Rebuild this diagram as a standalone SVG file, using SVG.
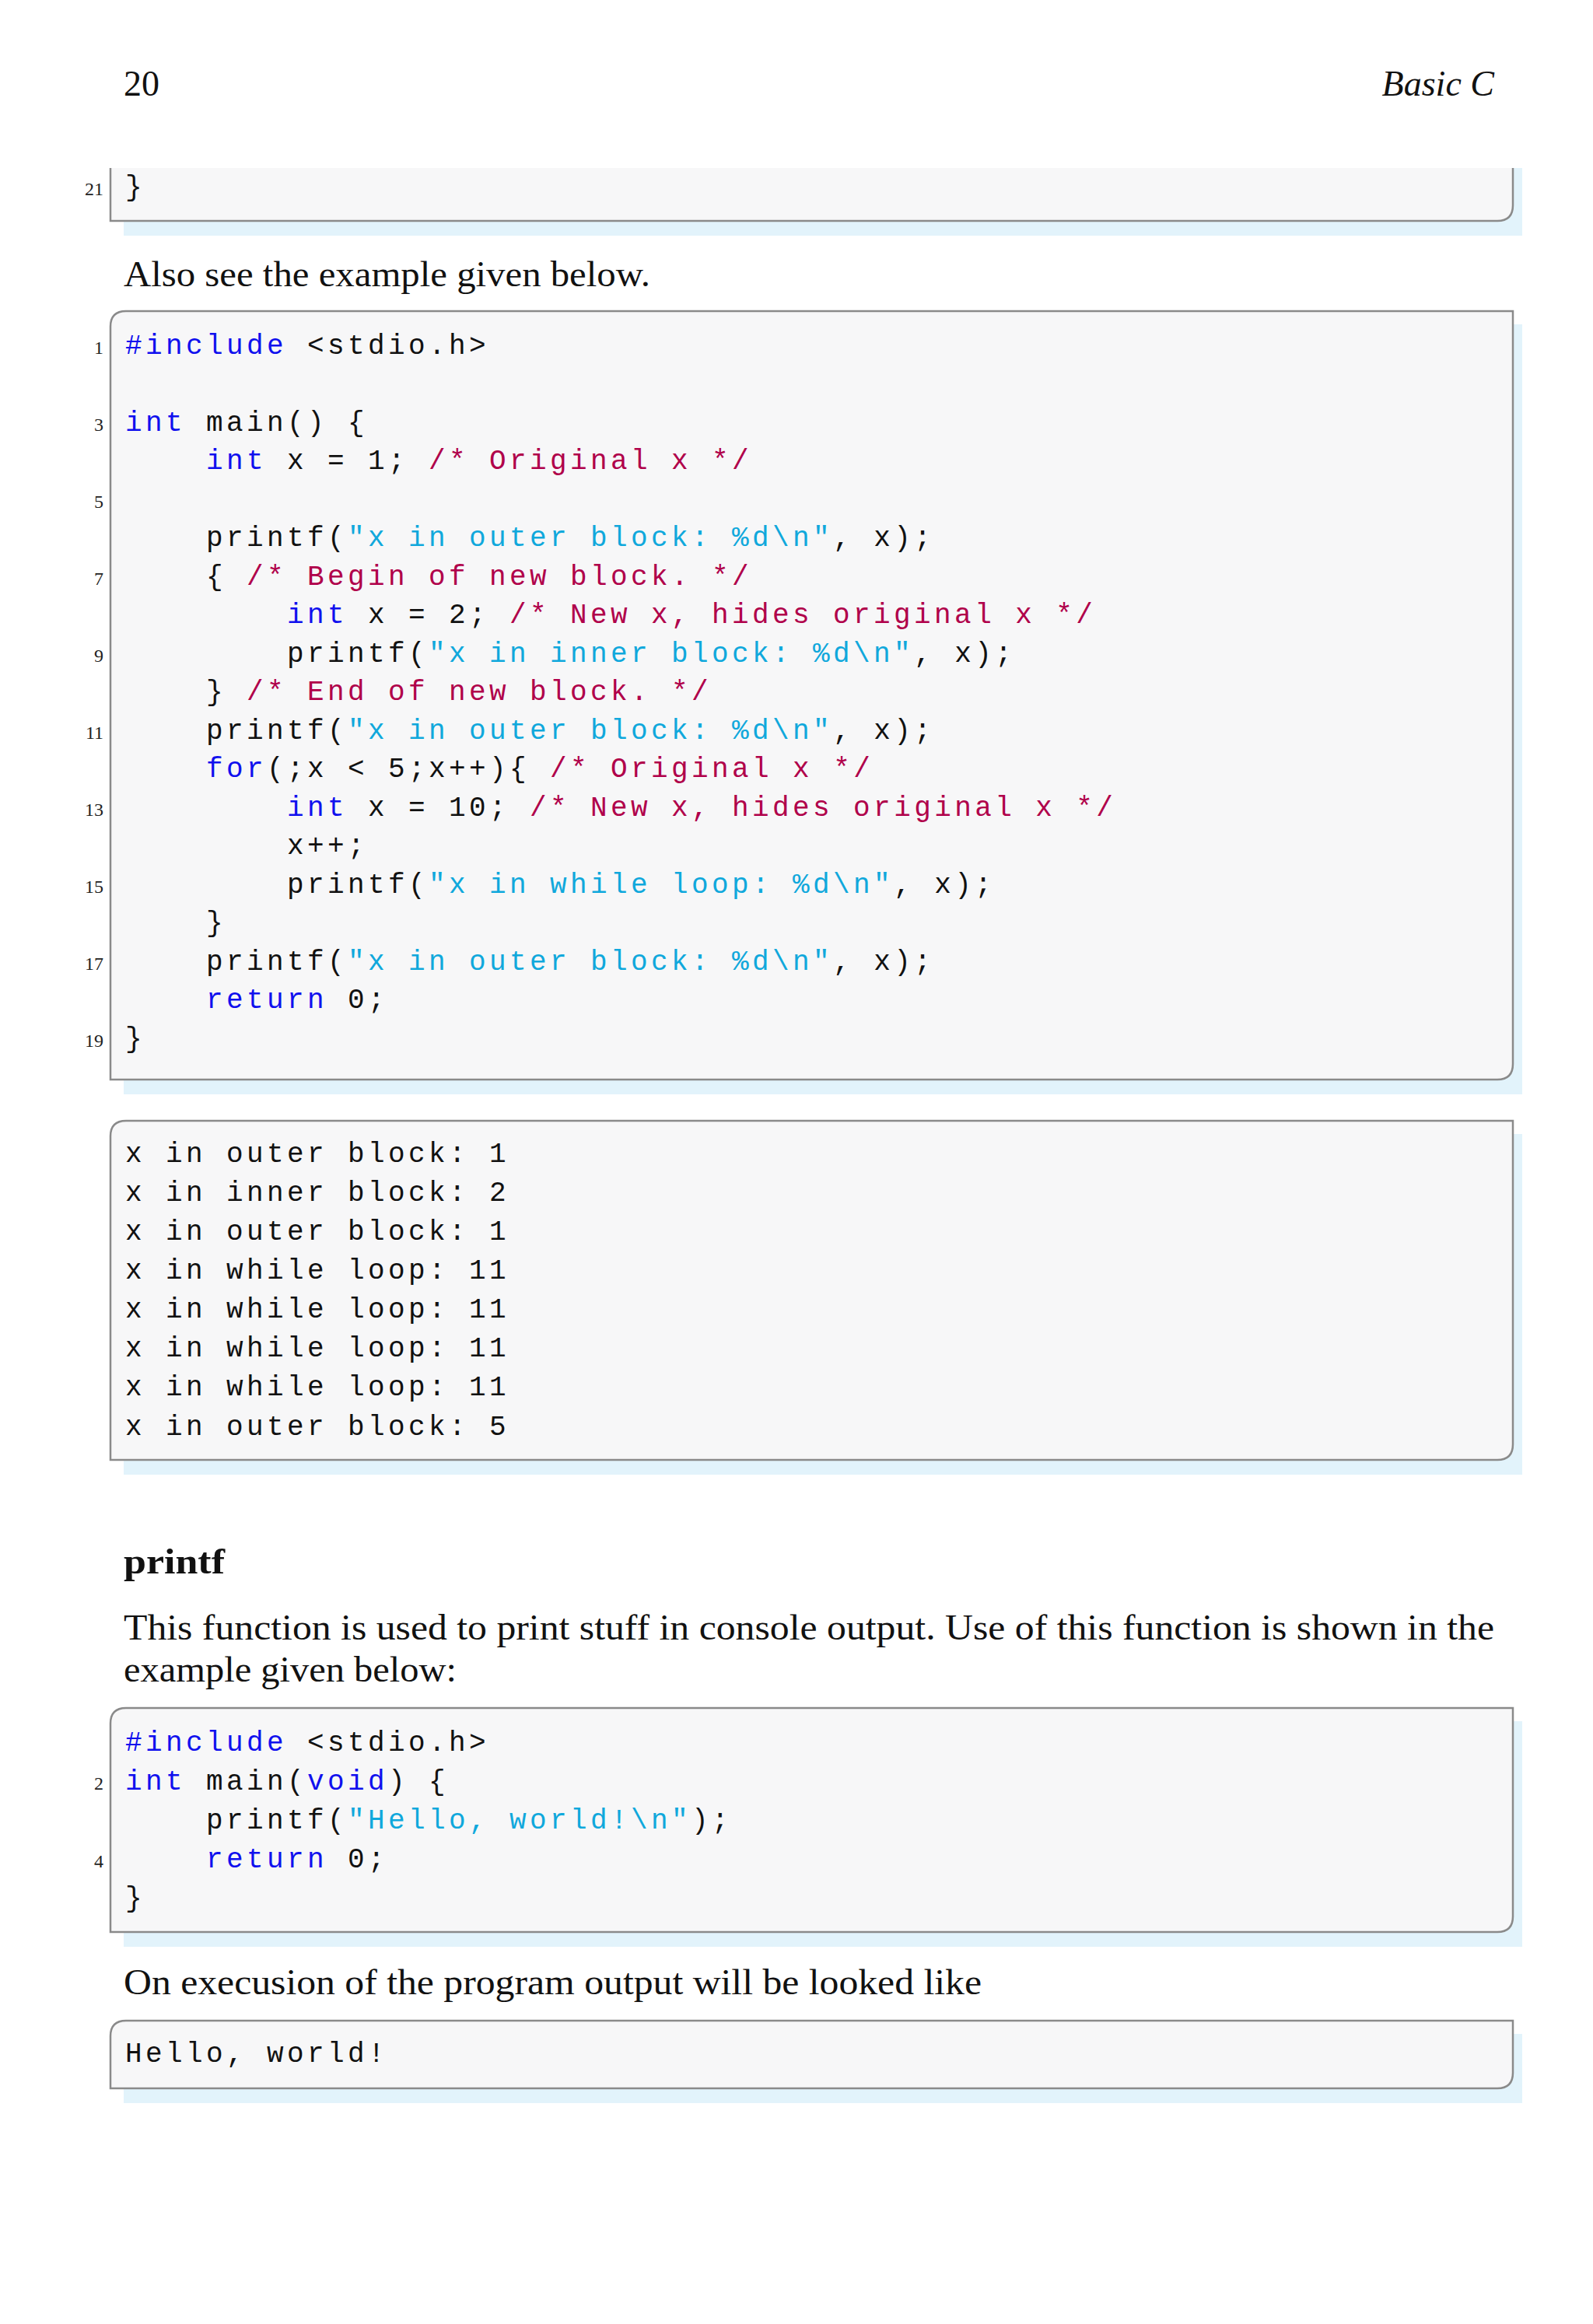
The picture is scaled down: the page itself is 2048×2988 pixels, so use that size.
<svg xmlns="http://www.w3.org/2000/svg" width="2048" height="2988" viewBox="0 0 2048 2988">
<style>
.bg{fill:#ffffff}
.sh{fill:#e2f3fb}
.bx{fill:#f7f7f8;stroke:#8a8a8a;stroke-width:2.5}
.code{font-family:"Liberation Mono",monospace;font-size:36px;letter-spacing:4.4px;fill:#111;white-space:pre}
.k{fill:#1010ee}
.s{fill:#10a8dc}
.c{fill:#b0004a}
.ln{font-family:"Liberation Serif",serif;font-size:24px;fill:#222;text-anchor:end}
.t{font-family:"Liberation Serif",serif;font-size:46px;fill:#111}
</style>
<rect class="bg" x="0" y="0" width="2048" height="2988"/>
<g id="header">
<text class="t" x="159" y="123">20</text>
<text class="t" x="1921" y="123" text-anchor="end" font-style="italic">Basic C</text>
</g>
<g id="box1">
<rect class="sh" x="159" y="216" width="1798" height="87"/>
<path class="bx" d="M142,216 V284 H1925 Q1945,284 1945,264 V216"/>
<text class="ln" x="133" y="251">21</text>
<text class="code" x="161" y="251">}</text>
</g>
<text id="p1" class="t" x="159" y="368" textLength="677" lengthAdjust="spacingAndGlyphs">Also see the example given below.</text>
<g id="box2">
<rect class="sh" x="159" y="417" width="1798" height="990"/>
<path class="bx" d="M162,400 H1945 V1368 Q1945,1388 1925,1388 H142 V420 Q142,400 162,400 Z"/>
<g class="ln">
<text x="133" y="455">1</text><text x="133" y="554">3</text><text x="133" y="653">5</text><text x="133" y="752">7</text><text x="133" y="851">9</text><text x="133" y="950">11</text><text x="133" y="1049">13</text><text x="133" y="1148">15</text><text x="133" y="1247">17</text><text x="133" y="1346">19</text>
</g>
<g class="code">
<text x="161" y="455"><tspan class="k">#include</tspan> &lt;stdio.h&gt;</text>
<text x="161" y="554"><tspan class="k">int</tspan> main() {</text>
<text x="265" y="603"><tspan class="k">int</tspan> x = 1; <tspan class="c">/* Original x */</tspan></text>
<text x="265" y="702">printf(<tspan class="s">"x in outer block: %d\n"</tspan>, x);</text>
<text x="265" y="752">{ <tspan class="c">/* Begin of new block. */</tspan></text>
<text x="369" y="801"><tspan class="k">int</tspan> x = 2; <tspan class="c">/* New x, hides original x */</tspan></text>
<text x="369" y="851">printf(<tspan class="s">"x in inner block: %d\n"</tspan>, x);</text>
<text x="265" y="900">} <tspan class="c">/* End of new block. */</tspan></text>
<text x="265" y="950">printf(<tspan class="s">"x in outer block: %d\n"</tspan>, x);</text>
<text x="265" y="999"><tspan class="k">for</tspan>(;x &lt; 5;x++){ <tspan class="c">/* Original x */</tspan></text>
<text x="369" y="1049"><tspan class="k">int</tspan> x = 10; <tspan class="c">/* New x, hides original x */</tspan></text>
<text x="369" y="1098">x++;</text>
<text x="369" y="1148">printf(<tspan class="s">"x in while loop: %d\n"</tspan>, x);</text>
<text x="265" y="1197">}</text>
<text x="265" y="1247">printf(<tspan class="s">"x in outer block: %d\n"</tspan>, x);</text>
<text x="265" y="1296"><tspan class="k">return</tspan> 0;</text>
<text x="161" y="1346">}</text>
</g>
</g>
<g id="box3">
<rect class="sh" x="159" y="1458" width="1798" height="438"/>
<path class="bx" d="M162,1441 H1945 V1857 Q1945,1877 1925,1877 H142 V1461 Q142,1441 162,1441 Z"/>
<g class="code">
<text x="161" y="1494">x in outer block: 1</text>
<text x="161" y="1544">x in inner block: 2</text>
<text x="161" y="1594">x in outer block: 1</text>
<text x="161" y="1644">x in while loop: 11</text>
<text x="161" y="1694">x in while loop: 11</text>
<text x="161" y="1744">x in while loop: 11</text>
<text x="161" y="1794">x in while loop: 11</text>
<text x="161" y="1845">x in outer block: 5</text>
</g>
</g>
<text id="h2" class="t" x="159" y="2023" font-weight="bold" textLength="130" lengthAdjust="spacingAndGlyphs">printf</text>
<g id="p2">
<text class="t" x="159" y="2108" textLength="1762" lengthAdjust="spacingAndGlyphs">This function is used to print stuff in console output. Use of this function is shown in the</text>
<text class="t" x="159" y="2162" textLength="428" lengthAdjust="spacingAndGlyphs">example given below:</text>
</g>
<g id="box4">
<rect class="sh" x="159" y="2213" width="1798" height="290"/>
<path class="bx" d="M162,2196 H1945 V2464 Q1945,2484 1925,2484 H142 V2216 Q142,2196 162,2196 Z"/>
<text class="ln" x="133" y="2301">2</text><text class="ln" x="133" y="2401">4</text>
<g class="code">
<text x="161" y="2251"><tspan class="k">#include</tspan> &lt;stdio.h&gt;</text>
<text x="161" y="2301"><tspan class="k">int</tspan> main(<tspan class="k">void</tspan>) {</text>
<text x="265" y="2351">printf(<tspan class="s">"Hello, world!\n"</tspan>);</text>
<text x="265" y="2401"><tspan class="k">return</tspan> 0;</text>
<text x="161" y="2451">}</text>
</g>
</g>
<text id="p3" class="t" x="159" y="2564" textLength="1103" lengthAdjust="spacingAndGlyphs">On execusion of the program output will be looked like</text>
<g id="box5">
<rect class="sh" x="159" y="2615" width="1798" height="89"/>
<path class="bx" d="M162,2598 H1945 V2665 Q1945,2685 1925,2685 H142 V2618 Q142,2598 162,2598 Z"/>
<text class="code" x="161" y="2651">Hello, world!</text>
</g>
</svg>
